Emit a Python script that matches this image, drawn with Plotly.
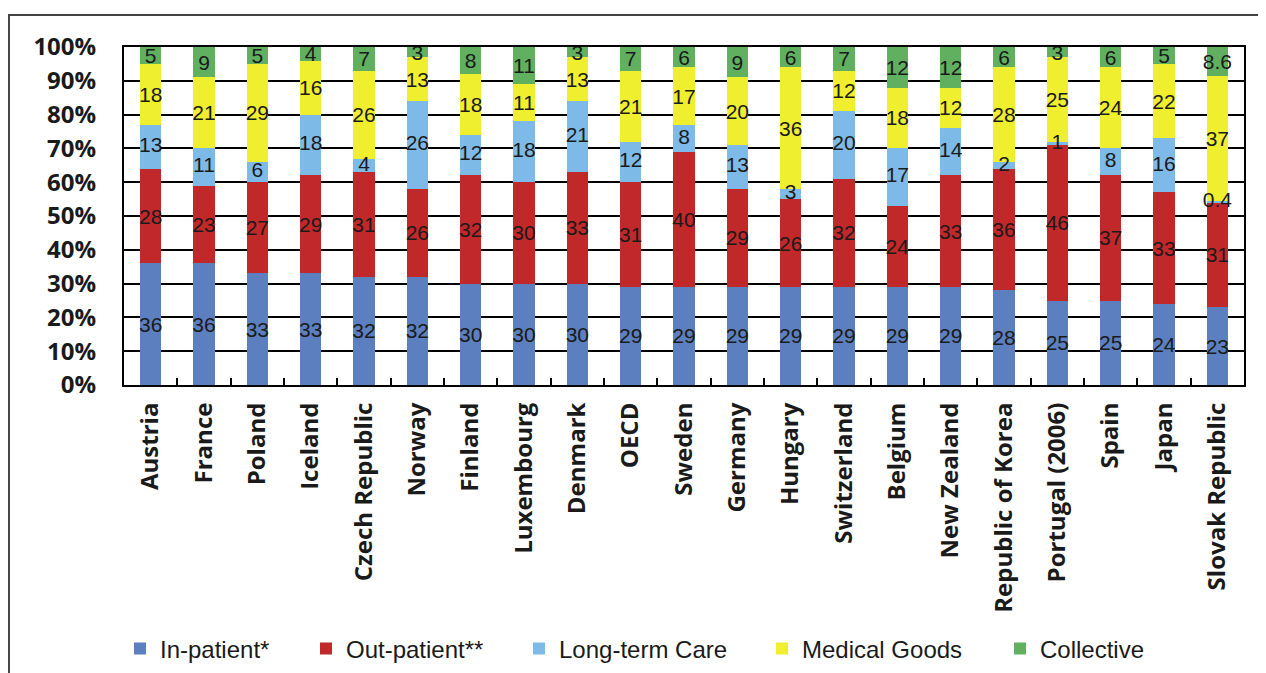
import plotly.graph_objects as go

countries = ["Austria", "France", "Poland", "Iceland", "Czech Republic", "Norway",
             "Finland", "Luxembourg", "Denmark", "OECD", "Sweden", "Germany",
             "Hungary", "Switzerland", "Belgium", "New Zealand", "Republic of Korea",
             "Portugal (2006)", "Spain", "Japan", "Slovak Republic"]

in_patient = [36, 36, 33, 33, 32, 32, 30, 30, 30, 29, 29, 29, 29, 29, 29, 29, 28, 25, 25, 24, 23]
out_patient = [28, 23, 27, 29, 31, 26, 32, 30, 33, 31, 40, 29, 26, 32, 24, 33, 36, 46, 37, 33, 31]
long_term = [13, 11, 6, 18, 4, 26, 12, 18, 21, 12, 8, 13, 3, 20, 17, 14, 2, 1, 8, 16, 0.4]
medical_goods = [18, 21, 29, 16, 26, 13, 18, 11, 13, 21, 17, 20, 36, 12, 18, 12, 28, 25, 24, 22, 37]
collective = [5, 9, 5, 4, 7, 3, 8, 11, 3, 7, 6, 9, 6, 7, 12, 12, 6, 3, 6, 5, 8.6]

series = [
    ("In-patient*", in_patient, "#5B7FBF"),
    ("Out-patient**", out_patient, "#C0282A"),
    ("Long-term Care", long_term, "#7EBAE8"),
    ("Medical Goods", medical_goods, "#EFEF30"),
    ("Collective", collective, "#60B060"),
]

# page has an 8px body margin, so the figure is drawn 8px smaller and offsets are in figure px
W, H = 1258, 665
legend_px = [112, 298, 511, 754, 992]
legend_y = 641

font_txt = "Liberation Sans, Arial, sans-serif"

fig = go.Figure()
for i, (name, vals, col) in enumerate(series):
    # long-term labels are drawn on top later (some overflow their thin segment)
    show_text = name != "Long-term Care"
    fig.add_trace(go.Bar(
        x=countries, y=vals, name=name,
        marker=dict(color=col, line=dict(width=0)),
        text=[f"{v:g}" for v in vals] if show_text else None,
        textposition="inside", insidetextanchor="middle", textangle=0,
        textfont=dict(family=font_txt, size=21, color="#1a1a1a"),
        legend="legend" if i == 0 else f"legend{i+1}",
        showlegend=True,
    ))

lt_mid = [a + b + c / 2 for a, b, c in zip(in_patient, out_patient, long_term)]
fig.add_trace(go.Scatter(
    x=countries, y=lt_mid, mode="text",
    text=[f"{v:g}" for v in long_term],
    textfont=dict(family=font_txt, size=21, color="#1a1a1a"),
    showlegend=False, cliponaxis=False, hoverinfo="skip",
))

layout_legends = {}
for i, px in enumerate(legend_px):
    key = "legend" if i == 0 else f"legend{i+1}"
    layout_legends[key] = dict(
        x=px / W, y=1 - legend_y / H, xref="container", yref="container",
        xanchor="left", yanchor="middle",
        orientation="h", bgcolor="rgba(0,0,0,0)",
        font=dict(family=font_txt, size=24, color="#1a1a1a"),
    )

fig.update_layout(
    barmode="stack",
    bargap=0.6,
    width=W, height=H,
    margin=dict(l=116, r=22, t=39, b=288, autoexpand=False),
    paper_bgcolor="white", plot_bgcolor="white",
    showlegend=True,
    uniformtext=dict(minsize=21, mode="show"),
    **layout_legends,
)

fig.update_yaxes(
    range=[0, 100], dtick=10, ticksuffix="%",
    showgrid=True, gridcolor="black", gridwidth=1.5,
    showline=True, linecolor="black", linewidth=2, mirror=True,
    ticks="", ticklabelstandoff=21, automargin=False,
    tickfont=dict(family="Open Sans", size=24, color="#1a1a1a", weight="bold"),
    zeroline=False,
)
fig.update_xaxes(
    range=[-0.5, len(countries) - 0.5],
    showgrid=False, tickangle=-90, automargin=False,
    showline=True, linecolor="black", linewidth=2, mirror=True,
    ticks="inside", tickson="boundaries", ticklen=7, tickcolor="black", tickwidth=1.5,
    ticklabelstandoff=6,
    tickfont=dict(family="Open Sans", size=24, color="#1a1a1a", weight="bold"),
)

# outer frame of the figure panel
fig.add_shape(type="rect", xref="paper", yref="paper",
              x0=-0.1027, x1=1.1, y0=-1.2, y1=1.0947,
              line=dict(color="#444444", width=2), layer="below")

fig.write_html("out.html")
